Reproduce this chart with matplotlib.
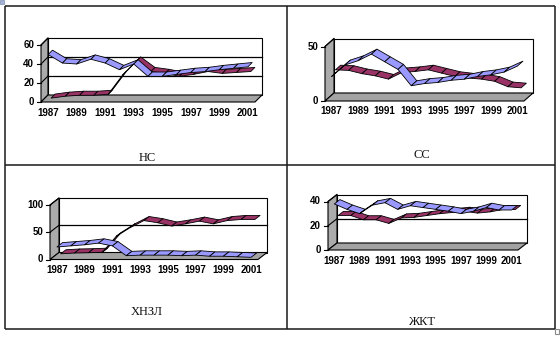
import matplotlib
matplotlib.use("Agg")
import matplotlib.pyplot as plt
from matplotlib.patches import Polygon, Rectangle
from matplotlib.lines import Line2D
from matplotlib.transforms import offset_copy

# ---- data -------------------------------------------------------------
years = list(range(1987, 2002))
year_labels = [str(y) for y in years[::2]]

ns_blue = [50, 41, 40, 45, 41, 34, 40, 27, 27, 29, 31, 32, 34, 35.5, 37]
ns_maroon = [1, 3, 4, 4, 5, 25, 40, 29, 27, 24, 26, 29, 27, 28, 29]

ss_blue = [22.5, 33, 37, 43, 36, 29, 14, 16, 17, 19, 20, 22.5, 24, 26.5, 32]
ss_maroon = [25.5, 25, 22, 20, 17, 23, 24, 25.5, 22.5, 19.5, 18, 17, 15, 10, 9]

hnzl_blue = [23, 25, 27, 30, 25, 7, 8, 8, 8, 7, 8, 6, 6, 5, 4]
hnzl_maroon = [5, 6.5, 7, 8, 37, 53, 66, 62, 56, 60, 65, 60, 66, 68, 68]

zhkt_blue = [38, 33.5, 30, 37, 39, 33.5, 36.5, 35, 33.5, 32, 30, 32, 35, 33, 33]
zhkt_maroon = [26, 26, 22.5, 22.5, 19.5, 24, 24.5, 26, 27.5, 28.5, 29.5, 28, 29, 31, 31]

titles = ["НС", "СС", "ХНЗЛ", "ЖКТ"]
y_ticks = [[0, 20, 40, 60], [0, 50], [0, 50, 100], [0, 20, 40]]
y_max = [60, 50, 100, 40]
series = [(ns_blue, ns_maroon), (ss_blue, ss_maroon),
          (hnzl_blue, hnzl_maroon), (zhkt_blue, zhkt_maroon)]

# ---- style / layout (pixels of a 560x337 canvas) ----------------------
W, H = 560, 337
BLUE, BLUE_UNDER = "#9999FF", "#4c4c80"
MAROON, MAROON_UNDER = "#993366", "#4a1830"
SIDE, FLOOR = "#ababab", "#a3a3a3"
TICK_FONT = dict(family="Liberation Sans", weight="bold", size=7)

# front plane of each 3-D plot: left, right, baseline y, top y, depth (dx, dy)
frames = [
    (41, 255, 102, 45, (7, 7)),
    (325, 524, 101, 46.5, (9, 8)),
    (50, 258, 259.5, 205, (9, 7)),
    (328, 518, 250, 201.5, (9, 7)),
]
title_pos = [(147, 158), (422, 155), (147, 312), (422, 322)]

fig = plt.figure(figsize=(W / 100, H / 100), dpi=100)
fig.patch.set_facecolor("white")

# page layer: table frame and captions
bg = fig.add_axes([0, 0, 1, 1])
bg.set_xlim(0, W)
bg.set_ylim(H, 0)
bg.axis("off")
frame_kw = dict(color="#1a1a1a", lw=1.1, solid_capstyle="butt")
bg.add_line(Line2D([5, 555], [6, 6], **frame_kw))
bg.add_line(Line2D([5, 555], [328.5, 328.5], **frame_kw))
bg.add_line(Line2D([5, 5], [6, 328.5], **frame_kw))
bg.add_line(Line2D([555, 555], [6, 328.5], **frame_kw))
bg.add_line(Line2D([287, 287], [6, 328.5], **frame_kw))
bg.add_line(Line2D([5, 555], [165, 165], **frame_kw))
bg.add_patch(Rectangle((554.5, 329), 4.5, 4.5, facecolor="white",
                       edgecolor="#8a8a8a", lw=0.8))
bg.add_patch(Rectangle((0, 0), 3.5, 3.5, facecolor="#9fb4d8",
                       edgecolor="#7f8fb0", lw=0.5))
for (tx, ty), t in zip(title_pos, titles):
    bg.text(tx, ty, t, family="Liberation Serif", fontsize=9,
            ha="center", va="center", color="#111111")


def ribbon(ax, xs, ys, d0, d1, dx, dy, sx, sy, color, under):
    """Excel-style 3-D line: a ribbon of parallelograms between two depths."""
    a = (d0 * dx * sx, d0 * dy * sy)
    b = (d1 * dx * sx, d1 * dy * sy)
    for i in range(len(xs) - 1):
        x0, y0, x1, y1 = xs[i], ys[i], xs[i + 1], ys[i + 1]
        poly = [(x0 + a[0], y0 + a[1]), (x1 + a[0], y1 + a[1]),
                (x1 + b[0], y1 + b[1]), (x0 + b[0], y0 + b[1])]
        vx, vy = (x1 - x0) / sx, (y1 - y0) / sy
        face = color if vx * dy - vy * dx >= 0 else under
        ax.add_patch(Polygon(poly, closed=True, facecolor=face,
                             edgecolor="black", lw=0.6, clip_on=False,
                             zorder=4, joinstyle="round"))


for k in range(4):
    left, right, base, top, (dx, dy) = frames[k]
    wpx, hpx = right - left, base - top
    ax = fig.add_axes([left / W, 1 - base / H, wpx / W, hpx / H])
    ax.set_xlim(years[0] - 0.5, years[-1] + 0.5)
    ax.set_ylim(0, y_max[k])
    ax.axis("off")
    T = ax.transAxes
    ox, oy = dx / wpx, dy / hpx

    # walls and floor
    ax.add_patch(Rectangle((ox, oy), 1, 1, transform=T, facecolor="white",
                           edgecolor="black", lw=0.8, clip_on=False, zorder=1))
    ax.add_patch(Polygon([(0, 0), (0, 1), (ox, 1 + oy), (ox, oy)], closed=True,
                         transform=T, facecolor=SIDE, edgecolor="black",
                         lw=0.8, clip_on=False, zorder=2))
    ax.add_patch(Polygon([(0, 0), (1, 0), (1 + ox, oy), (ox, oy)], closed=True,
                         transform=T, facecolor=FLOOR, edgecolor="black",
                         lw=0.8, clip_on=False, zorder=2))

    # gridlines, tick marks and value labels
    for t in y_ticks[k]:
        g = t / y_max[k]
        if 0 < t < y_max[k]:
            ax.add_line(Line2D([ox, 1 + ox], [g + oy, g + oy], transform=T,
                               color="black", lw=0.9, clip_on=False, zorder=3))
        if t > 0:
            ax.add_line(Line2D([0, ox], [g, g + oy], transform=T,
                               color="black", lw=0.8, clip_on=False, zorder=3))
        ax.add_line(Line2D([-4 / wpx, 0], [g, g], transform=T, color="black",
                           lw=0.8, clip_on=False, zorder=3))
        ax.text(-7 / wpx, g, str(t), transform=T, ha="right", va="center",
                **TICK_FONT)

    # category labels
    lab_tr = offset_copy(ax.transData, fig=fig, x=0, y=-10.5, units="dots")
    for yr, lab in zip(years[::2], year_labels):
        ax.text(yr, 0, lab, transform=lab_tr, ha="center", va="center",
                **TICK_FONT)

    # series ribbons (back row first)
    sx = (len(years)) / wpx
    sy = y_max[k] / hpx
    blue, maroon = series[k]
    ribbon(ax, years, maroon, 0.42, 1.0, dx, dy, sx, sy, MAROON, MAROON_UNDER)
    ribbon(ax, years, blue, 0.0, 0.62, dx, dy, sx, sy, BLUE, BLUE_UNDER)

fig.savefig("out.png", dpi=100, facecolor="white")
